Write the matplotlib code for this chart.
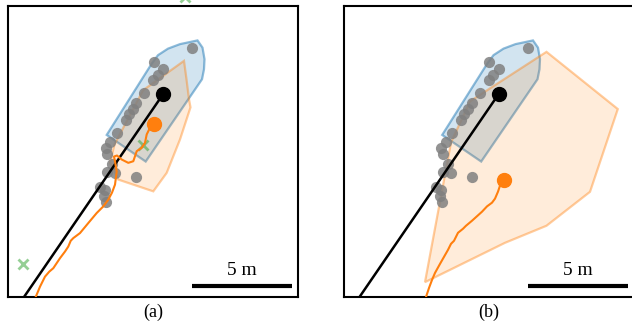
import numpy as np
import matplotlib
matplotlib.use("Agg")
import matplotlib.pyplot as plt
from matplotlib.patches import Polygon

SIZE_M = 14.5  # side of the square view, metres

# ground-truth boat outline (m)
boat_x = [4.935, 7.2, 7.5, 8.0, 8.6, 9.475, 9.725, 9.825, 9.8, 9.7, 6.885]
boat_y = [8.075, 11.65, 12.05, 12.375, 12.6, 12.785, 12.425, 11.85, 11.35, 10.85, 6.75]

# lidar returns on the boat
pts_x = [9.215, 7.275, 7.765, 7.475, 7.25, 6.8, 6.4, 6.225, 6.025, 5.875, 5.435,
         5.1, 4.875, 4.95, 5.2, 5.35, 4.95, 6.4, 4.6, 4.85, 4.8, 4.9]
pts_y = [12.4, 11.685, 11.35, 11.075, 10.8, 10.185, 9.65, 9.375, 9.125, 8.8, 8.185,
         7.7, 7.425, 7.15, 6.65, 6.2, 6.25, 5.965, 5.5, 5.35, 5.05, 4.75]

# true track (start -> current position)
gt_track_x = [0.8, 7.75]
gt_track_y = [0.0, 10.1]

# (a) estimated track and estimated outline
est_a_x = [1.385, 1.6, 1.85, 2.065, 2.265, 2.6, 2.85, 3.015, 3.135, 3.265, 3.6, 4.015,
           4.435, 4.765, 5.015, 5.2, 5.35, 5.435, 5.35, 5.3, 5.45, 5.685, 6.015, 6.265,
           6.35, 6.435, 6.685, 6.85, 6.935, 7.1, 7.315]
est_a_y = [0.0, 0.515, 1.015, 1.265, 1.435, 1.935, 2.265, 2.515, 2.8, 2.935, 3.185, 3.685,
           4.185, 4.515, 4.85, 5.2, 5.6, 6.25, 6.75, 7.0, 7.05, 6.85, 6.685, 6.765,
           7.015, 7.265, 7.435, 7.685, 8.1, 8.435, 8.635]
hull_a_x = [8.8, 8.925, 9.05, 9.125, 8.6, 7.935, 7.265, 5.515, 5.1, 5.325, 6.75]
hull_a_y = [11.765, 10.85, 9.85, 9.45, 7.85, 6.185, 5.265, 5.85, 6.7, 7.6, 10.3]
clutter_a_x = [0.765, 6.735, 8.85]
clutter_a_y = [1.635, 7.565, 14.97]

# (b) estimated track and estimated outline
est_b_x = [4.125, 4.275, 4.425, 4.575, 4.825, 5.025, 5.225, 5.375, 5.525, 5.725, 5.975,
           6.125, 6.425, 6.675, 6.925, 7.175, 7.425, 7.575, 7.725, 7.825, 8.025]
est_b_y = [0.0, 0.45, 0.85, 1.2, 1.65, 2.0, 2.35, 2.65, 2.8, 3.2, 3.4,
           3.55, 3.8, 4.025, 4.25, 4.515, 4.7, 4.9, 5.25, 5.55, 5.85]
hull_b_x = [10.15, 13.715, 12.325, 10.15, 8.075, 4.075, 5.375, 6.325]
hull_b_y = [12.215, 9.365, 5.24, 3.55, 2.7, 0.74, 7.7, 9.75]

plt.rcParams["font.family"] = ["Liberation Serif", "DejaVu Serif"]

fig = plt.figure(figsize=(6.32, 3.33), dpi=100)
W, H = 632, 333
ax_a = fig.add_axes([8 / W, 36 / H, 290 / W, 291 / H])
ax_b = fig.add_axes([343.5 / W, 36 / H, 290 / W, 291 / H])


def draw_panel(ax, est_x, est_y, hull_x, hull_y, label):
    ax.add_patch(Polygon(np.column_stack([boat_x, boat_y]), closed=True,
                         facecolor=(0.12, 0.47, 0.71, 0.2),
                         edgecolor=(0.12, 0.47, 0.71, 0.5), lw=1.6, zorder=1))
    ax.add_patch(Polygon(np.column_stack([hull_x, hull_y]), closed=True,
                         facecolor=(1.0, 0.5, 0.05, 0.15),
                         edgecolor=(1.0, 0.5, 0.05, 0.4), lw=1.6, zorder=2))
    ax.scatter(pts_x, pts_y, s=65, color="gray", alpha=0.85, lw=0, zorder=3)
    ax.plot(gt_track_x, gt_track_y, color="black", lw=1.8, zorder=4)
    ax.plot(est_x, est_y, color="tab:orange", lw=1.5, zorder=5)
    ax.plot(gt_track_x[-1], gt_track_y[-1], "o", color="black", ms=10, zorder=6)
    ax.plot(est_x[-1], est_y[-1], "o", color="tab:orange", ms=10, zorder=6)

    # 5 m scale bar
    ax.plot([9.2, 14.2], [0.55, 0.55], color="black", lw=3, solid_capstyle="butt", zorder=7)
    ax.text(11.7, 0.9, "5 m", ha="center", va="bottom", fontsize=14)

    ax.set_xlim(0, SIZE_M)
    ax.set_ylim(0, SIZE_M)
    ax.set_xticks([])
    ax.set_yticks([])
    for sp in ax.spines.values():
        sp.set_linewidth(1.5)
    ax.set_xlabel(label, fontsize=13, labelpad=5)


draw_panel(ax_a, est_a_x, est_a_y, hull_a_x, hull_a_y, "(a)")
ax_a.plot(clutter_a_x, clutter_a_y, "x", color="tab:green", alpha=0.5, ms=7, mew=2,
          zorder=3, clip_on=False)
draw_panel(ax_b, est_b_x, est_b_y, hull_b_x, hull_b_y, "(b)")

fig.savefig("out.png", dpi=100)
